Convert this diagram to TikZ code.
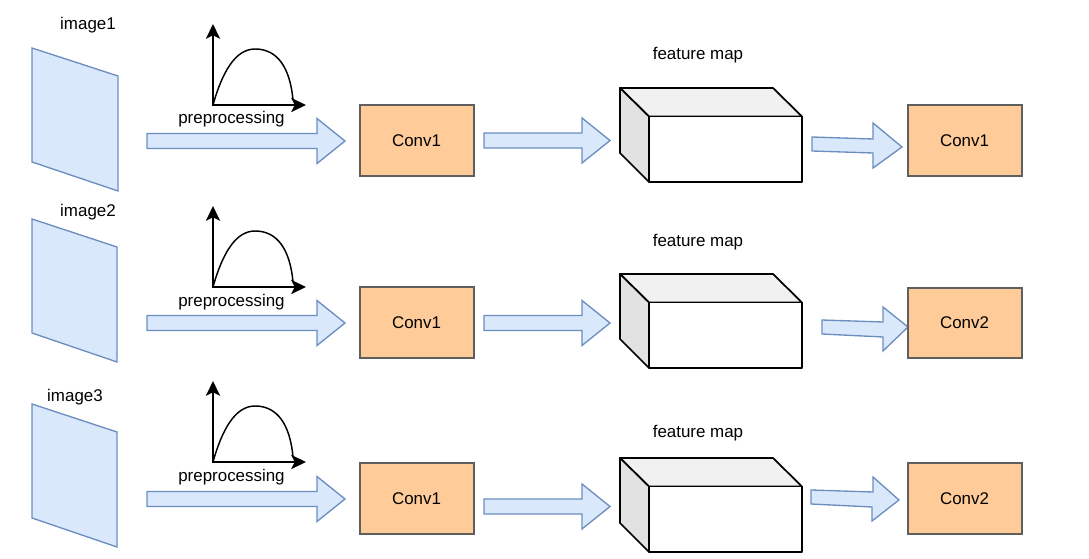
\documentclass[tikz,border=0pt]{standalone}
\usepackage{fontspec}
\setmainfont{Liberation Sans}
\usetikzlibrary{arrows.meta}
\definecolor{imgfill}{HTML}{DAE8FC}
\definecolor{imgline}{HTML}{6C8EBF}
\definecolor{convfill}{HTML}{FFCC99}
\definecolor{convline}{HTML}{5F5F5F}
\definecolor{topface}{HTML}{F1F1F1}
\definecolor{sideface}{HTML}{E2E2E2}
\tikzset{
  lbl/.style={font=\fontsize{12.7}{15}\selectfont, inner sep=0pt},
  convbox/.style={draw=convline, fill=convfill, line width=1.5pt, minimum width=85.5pt, minimum height=53pt, font=\fontsize{12.7}{15}\selectfont},
  imgplane/.style={fill=imgfill, draw=imgline, line width=1pt, line join=miter},
  barrow/.style={fill=imgfill, draw=imgline, line width=1pt, line join=miter},
  axisline/.style={line width=1.5pt, -{Stealth[length=11pt, width=10.5pt, inset=2.5pt]}},
  curveline/.style={line width=1.1pt},
  cubeline/.style={draw=black, line width=1.3pt, line join=round}
}
\newcommand{\plotat}[1]{%
  \draw[axisline] (212,#1) -- (306,#1);
  \draw[axisline] (213,#1) -- (213,#1-81);
  \draw[curveline] (213,#1) .. controls (222,#1-32) and (235,#1-56) .. (255,#1-56)
     .. controls (277,#1-56) and (290,#1-38) .. (293,#1-5);
}
\newcommand{\straightarrow}[4]{% x start, head base x, tip x, center y
  \filldraw[barrow] (#1,#4-7.5) -- (#2,#4-7.5) -- (#2,#4-22.5) -- (#3,#4) -- (#2,#4+22.5) -- (#2,#4+7.5) -- (#1,#4+7.5) -- cycle;
}
\newcommand{\cuboidat}[1]{% top y
  \filldraw[cubeline, fill=topface] (620,#1) -- (773,#1) -- (802,#1+28.5) -- (649,#1+28.5) -- cycle;
  \filldraw[cubeline, fill=sideface] (620,#1) -- (649,#1+28.5) -- (649,#1+94) -- (620,#1+65) -- cycle;
  \filldraw[cubeline, fill=white] (649,#1+28.5) rectangle (802,#1+94);
}
\begin{document}
\begin{tikzpicture}[x=0.75pt,y=-0.75pt]
\useasboundingbox (0,0) rectangle (1089,559);
% ---------- row 1 ----------
\node[lbl] (img1lbl) at (88,25) {image1};
\filldraw[imgplane] (32,48) -- (118,76) -- (118,191) -- (32,162) -- cycle;
\plotat{105}
\node[lbl] (pre1) at (231.5,119) {preprocessing};
\straightarrow{147}{317}{345}{141}
\node[convbox] (c11) at (416.5,140.5) {Conv1};
\straightarrow{484}{582}{610}{140.5}
\node[lbl] (fm1) at (698,55) {feature map};
\cuboidat{88}
\filldraw[barrow] (812,137) -- (873,139) -- (873,123) -- (902,147) -- (873,168) -- (873,153) -- (812,151) -- cycle;
\node[convbox] (c12) at (964.5,140.5) {Conv1};
% ---------- row 2 ----------
\node[lbl] (img2lbl) at (88,212) {image2};
\filldraw[imgplane] (32,219) -- (117,247) -- (117,362) -- (32,333) -- cycle;
\plotat{287}
\node[lbl] (pre2) at (231.5,302) {preprocessing};
\straightarrow{147}{317}{345}{323}
\node[convbox] (c21) at (416.5,322.5) {Conv1};
\straightarrow{484}{582}{610}{323}
\node[lbl] (fm2) at (698,242) {feature map};
\cuboidat{274}
\filldraw[barrow] (822,320) -- (883,322) -- (883,307) -- (908,327) -- (883,351) -- (883,337) -- (822,334) -- cycle;
\node[convbox] (c22) at (964.5,323) {Conv2};
% ---------- row 3 ----------
\node[lbl] (img3lbl) at (75,397) {image3};
\filldraw[imgplane] (32,404) -- (117,432) -- (117,547) -- (32,518) -- cycle;
\plotat{462}
\node[lbl] (pre3) at (231.5,477) {preprocessing};
\straightarrow{147}{317}{345}{499}
\node[convbox] (c31) at (416.5,498.5) {Conv1};
\straightarrow{484}{582}{610}{506.5}
\node[lbl] (fm3) at (698,433) {feature map};
\cuboidat{458}
\filldraw[barrow] (811,490) -- (873,492) -- (873,477) -- (899,500) -- (872,521) -- (872,507) -- (811,504) -- cycle;
\node[convbox] (c32) at (964.5,498.5) {Conv2};
\end{tikzpicture}
\end{document}
